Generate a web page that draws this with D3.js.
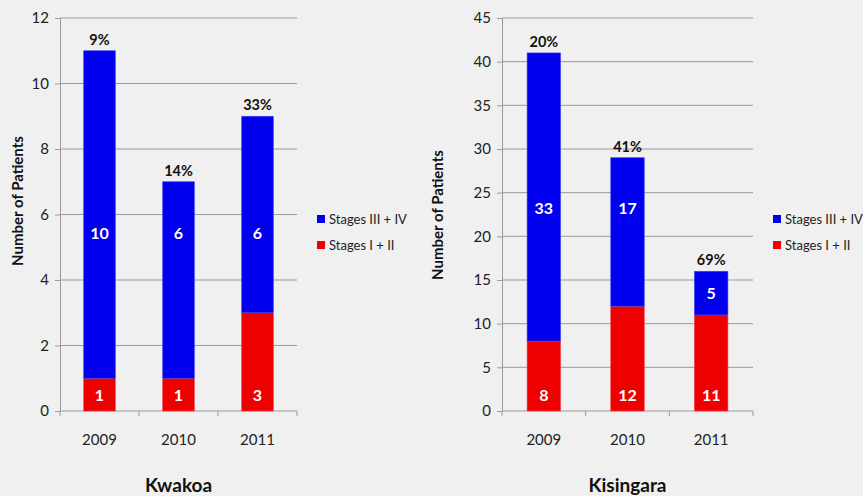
<!DOCTYPE html>
<html>
<head>
<meta charset="utf-8">
<script src="https://cdn.jsdelivr.net/npm/d3@7/dist/d3.min.js"></script>
<style>
  html, body { margin: 0; padding: 0; background: #f0f0f0; }
  svg { display: block; }
  text { font-family: Lato, "Open Sans", sans-serif; }
</style>
</head>
<body>
<svg id="chart" width="863" height="496"></svg>
<script>
// Patient counts by year and cancer stage for two sites
const years = ["2009", "2010", "2011"];
const seriesNames = ["Stages III + IV", "Stages I + II"];

const kwakoaEarly = [1, 1, 3];
const kwakoaLate = [10, 6, 6];
const kwakoaTicks = [0, 2, 4, 6, 8, 10, 12];

const kisingaraEarly = [8, 12, 11];
const kisingaraLate = [33, 17, 5];
const kisingaraTicks = [0, 5, 10, 15, 20, 25, 30, 35, 40, 45];

const BLUE = "#0000ee";
const RED = "#ee0000";
const GRID = "#9a9a9a";

const svg = d3.select("#chart");
const pct = d3.format(".0%");

function drawPanel(opt) {
  const { title, early, late, ticks, left, right, top, bottom,
          labelLevel, yLabelX, yLabelY, legendX } = opt;

  const x = d3.scaleBand().domain(years).range([left, right])
    .paddingInner(0.6).paddingOuter(0.3);
  const y = d3.scaleLinear().domain([0, d3.max(ticks)]).range([bottom, top]);

  const g = svg.append("g");

  // horizontal gridlines
  g.selectAll("line.grid").data(ticks.filter(t => t > 0)).join("line")
    .attr("x1", left).attr("x2", right)
    .attr("y1", d => y(d)).attr("y2", d => y(d))
    .attr("stroke", GRID).attr("stroke-width", 1);

  // value axis
  const yAxis = g.append("g").attr("transform", `translate(${left},0)`)
    .call(d3.axisLeft(y).tickValues(ticks).tickSize(5).tickPadding(6));
  yAxis.select(".domain").attr("stroke", GRID);
  yAxis.selectAll(".tick line").attr("stroke", GRID);
  yAxis.selectAll(".tick text").attr("fill", "#222")
    .style("font-size", "15px").style("font-family", "Lato, sans-serif");

  // category axis with ticks between categories
  const step = x.step();
  const x0 = x.range()[0];
  g.append("line").attr("x1", left).attr("x2", right)
    .attr("y1", bottom).attr("y2", bottom).attr("stroke", GRID);
  g.selectAll("line.cat").data(d3.range(years.length + 1)).join("line")
    .attr("x1", i => x0 + i * step).attr("x2", i => x0 + i * step)
    .attr("y1", bottom).attr("y2", bottom + 5).attr("stroke", GRID);
  g.selectAll("text.cat").data(years).join("text")
    .attr("x", d => x(d) + x.bandwidth() / 2).attr("y", bottom + 34)
    .attr("text-anchor", "middle").attr("fill", "#222")
    .style("font-size", "15px").text(d => d);

  const rows = years.map((yr, i) => ({
    yr, early: early[i], late: late[i], total: early[i] + late[i]
  }));

  // stacked bars
  g.selectAll("rect.early").data(rows).join("rect")
    .attr("x", d => x(d.yr)).attr("width", x.bandwidth())
    .attr("y", d => y(d.early)).attr("height", d => y(0) - y(d.early))
    .attr("fill", RED).attr("stroke", "#f04040").attr("stroke-width", 0.6);
  g.selectAll("rect.late").data(rows).join("rect")
    .attr("x", d => x(d.yr)).attr("width", x.bandwidth())
    .attr("y", d => y(d.total)).attr("height", d => y(d.early) - y(d.total))
    .attr("fill", BLUE).attr("stroke", "#4040f0").attr("stroke-width", 0.6);

  // value labels inside segments
  g.selectAll("text.early").data(rows).join("text")
    .attr("x", d => x(d.yr) + x.bandwidth() / 2).attr("y", y(0) - 10)
    .attr("text-anchor", "middle").attr("fill", "#fff")
    .style("font-size", "16px").style("font-weight", "bold")
    .text(d => d.early);
  g.selectAll("text.late").data(rows).join("text")
    .attr("x", d => x(d.yr) + x.bandwidth() / 2)
    .attr("y", d => {
      const v = (labelLevel > d.early + 1 && labelLevel < d.total - 1)
        ? labelLevel : (d.early + d.total) / 2;
      return y(v) + 6;
    })
    .attr("text-anchor", "middle").attr("fill", "#fff")
    .style("font-size", "16px").style("font-weight", "bold")
    .text(d => d.late);

  // share of early-stage patients above each bar
  g.selectAll("text.pct").data(rows).join("text")
    .attr("x", d => x(d.yr) + x.bandwidth() / 2).attr("y", d => y(d.total) - 6)
    .attr("text-anchor", "middle").attr("fill", "#111")
    .style("font-size", "14.5px").style("font-weight", "bold")
    .text(d => pct(d.early / d.total));

  // axis title
  g.append("text")
    .attr("transform", `translate(${yLabelX},${yLabelY}) rotate(-90)`)
    .attr("text-anchor", "middle").attr("fill", "#111")
    .style("font-size", "15px").style("font-weight", "bold")
    .text("Number of Patients");

  // panel title
  g.append("text").attr("x", (left + right) / 2).attr("y", 492)
    .attr("text-anchor", "middle").attr("fill", "#111")
    .style("font-size", "19px").style("font-weight", "bold")
    .text(title);

  // legend
  const lg = g.append("g").attr("transform", `translate(${legendX},0)`);
  const legendRows = [
    { name: seriesNames[0], color: BLUE, cy: 219 },
    { name: seriesNames[1], color: RED, cy: 245 }
  ];
  lg.selectAll("rect").data(legendRows).join("rect")
    .attr("x", 0).attr("y", d => d.cy - 4).attr("width", 8).attr("height", 8)
    .attr("fill", d => d.color);
  lg.selectAll("text").data(legendRows).join("text")
    .attr("x", 12).attr("y", d => d.cy + 4.5).attr("fill", "#222")
    .style("font-size", "13px").text(d => d.name);
}

drawPanel({
  title: "Kwakoa", early: kwakoaEarly, late: kwakoaLate, ticks: kwakoaTicks,
  left: 60, right: 297, top: 18, bottom: 411, labelLevel: 5.45,
  yLabelX: 23, yLabelY: 201, legendX: 317
});

drawPanel({
  title: "Kisingara", early: kisingaraEarly, late: kisingaraLate, ticks: kisingaraTicks,
  left: 502, right: 753, top: 18, bottom: 411, labelLevel: 23.3,
  yLabelX: 443, yLabelY: 215, legendX: 773
});
</script>
</body>
</html>
